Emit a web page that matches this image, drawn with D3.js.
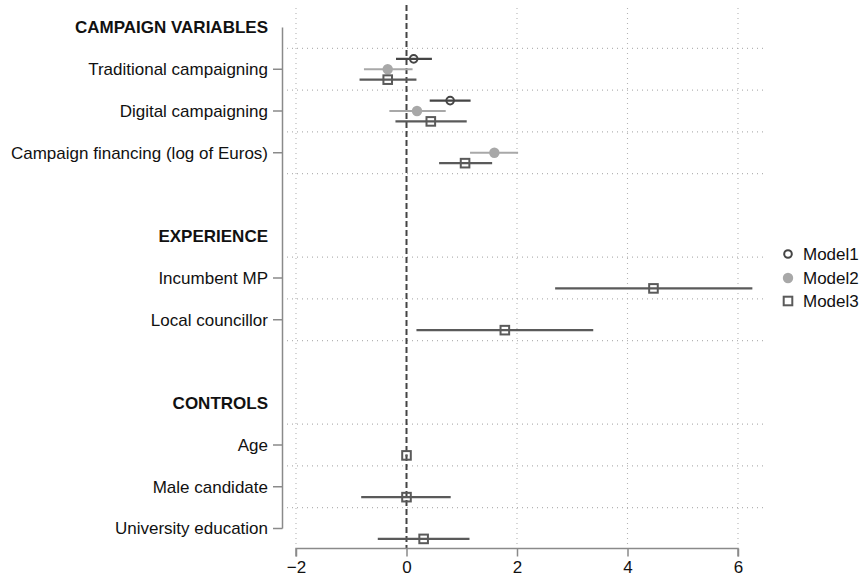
<!DOCTYPE html>
<html>
<head>
<meta charset="utf-8">
<script src="https://cdn.jsdelivr.net/npm/d3@7"></script>
<style>
  html, body { margin: 0; padding: 0; background: #fff; }
  text { font-family: "Liberation Sans", Arial, Helvetica, sans-serif; }
</style>
</head>
<body>
<svg id="chart" width="866" height="580"></svg>
<script>
// ---- data ----
const rowLabels = ["CAMPAIGN VARIABLES", "Traditional campaigning", "Digital campaigning",
  "Campaign financing (log of Euros)", "", "EXPERIENCE", "Incumbent MP", "Local councillor", "",
  "CONTROLS", "Age", "Male candidate", "University education"];
const headerLabels = ["CAMPAIGN VARIABLES", "EXPERIENCE", "CONTROLS"];
const variables = ["Traditional campaigning", "Digital campaigning", "Campaign financing (log of Euros)",
  "Incumbent MP", "Local councillor", "Age", "Male candidate", "University education"];
const models = ["Model1", "Model2", "Model3"];
const model1Est = [0.13, 0.79, null, null, null, null, null, null];
const model1Lo  = [-0.19, 0.42, null, null, null, null, null, null];
const model1Hi  = [0.46, 1.16, null, null, null, null, null, null];
const model2Est = [-0.34, 0.19, 1.59, null, null, null, null, null];
const model2Lo  = [-0.77, -0.31, 1.15, null, null, null, null, null];
const model2Hi  = [0.11, 0.71, 2.02, null, null, null, null, null];
const model3Est = [-0.34, 0.44, 1.06, 4.47, 1.78, 0.0, 0.0, 0.31];
const model3Lo  = [-0.85, -0.20, 0.59, 2.69, 0.18, -0.02, -0.82, -0.52];
const model3Hi  = [0.18, 1.09, 1.55, 6.26, 3.38, 0.02, 0.80, 1.14];
const xTicks = [-2, 0, 2, 4, 6];
// gridlines sit between these pairs of rows
const gridBetween = [[0,1],[1,2],[2,3],[3,4],[5,6],[6,7],[7,8],[9,10],[10,11],[11,12]];

// ---- chart ----
const svg = d3.select("#chart");
const x = d3.scaleLinear().domain([-2, 6]).range([296, 738]);
const y = d3.scaleLinear().domain([0, rowLabels.length - 1]).range([27.5, 528.5]);

const modelStyle = {
  Model1: { color: "#454545", offset: -10.4, shape: "circleOpen" },
  Model2: { color: "#a8a8a8", offset: 0, shape: "circleFill" },
  Model3: { color: "#5a5a5a", offset: 10.4, shape: "square" }
};
const est = { Model1: model1Est, Model2: model2Est, Model3: model3Est };
const lo = { Model1: model1Lo, Model2: model2Lo, Model3: model3Lo };
const hi = { Model1: model1Hi, Model2: model2Hi, Model3: model3Hi };

// horizontal dotted gridlines
svg.append("g").selectAll("line").data(gridBetween).join("line")
  .attr("x1", 287).attr("x2", 764)
  .attr("y1", d => (y(d[0]) + y(d[1])) / 2)
  .attr("y2", d => (y(d[0]) + y(d[1])) / 2)
  .attr("stroke", "#b4b4b4").attr("stroke-width", 1.1)
  .attr("stroke-dasharray", "1,4");

// vertical dotted gridlines
svg.append("g").selectAll("line").data(xTicks.filter(t => t !== 0)).join("line")
  .attr("x1", d => x(d)).attr("x2", d => x(d))
  .attr("y1", 8).attr("y2", 547)
  .attr("stroke", "#b4b4b4").attr("stroke-width", 1.1)
  .attr("stroke-dasharray", "1,4");

// zero reference dashed line
svg.append("line")
  .attr("x1", x(0)).attr("x2", x(0)).attr("y1", 5).attr("y2", 548)
  .attr("stroke", "#444").attr("stroke-width", 2)
  .attr("stroke-dasharray", "6,3");

// x axis
const xAxis = svg.append("g").attr("transform", "translate(0,548.5)")
  .call(d3.axisBottom(x).tickValues(xTicks).tickSize(8).tickPadding(4)
    .tickFormat(d => d < 0 ? "\u2212" + Math.abs(d) : d));
xAxis.select(".domain").attr("stroke", "#8a8a8a").attr("stroke-width", 1.5)
  .attr("d", `M${x(-2)},8V0H${x(6)}V8`);
xAxis.selectAll(".tick line").attr("stroke", "#8a8a8a").attr("stroke-width", 1.5);
xAxis.selectAll(".tick text").attr("font-size", 17).attr("fill", "#111")
  .attr("font-family", "Liberation Sans, Arial, sans-serif");

// y axis line
svg.append("line").attr("x1", 282.5).attr("x2", 282.5)
  .attr("y1", y(0)).attr("y2", y(rowLabels.length - 1))
  .attr("stroke", "#8a8a8a").attr("stroke-width", 1.5);

// row labels and ticks
const rows = rowLabels.map((l, i) => ({ label: l, i }));
svg.append("g").selectAll("line")
  .data(rows.filter(r => r.label && !headerLabels.includes(r.label))).join("line")
  .attr("x1", 273).attr("x2", 282.5)
  .attr("y1", d => y(d.i)).attr("y2", d => y(d.i))
  .attr("stroke", "#8a8a8a").attr("stroke-width", 1.5);
svg.append("g").selectAll("text").data(rows.filter(r => r.label)).join("text")
  .attr("x", 268).attr("y", d => y(d.i)).attr("dy", "0.35em")
  .attr("text-anchor", "end").attr("font-size", 17).attr("fill", "#111")
  .attr("font-weight", d => headerLabels.includes(d.label) ? "bold" : "normal")
  .text(d => d.label);

// estimates
models.forEach(m => {
  const st = modelStyle[m];
  const pts = variables.map((v, k) => ({
    v, est: est[m][k], lo: lo[m][k], hi: hi[m][k],
    yy: y(rowLabels.indexOf(v)) + st.offset
  })).filter(d => d.est !== null);
  const g = svg.append("g");
  g.selectAll("line").data(pts).join("line")
    .attr("x1", d => x(d.lo)).attr("x2", d => x(d.hi))
    .attr("y1", d => d.yy).attr("y2", d => d.yy)
    .attr("stroke", st.color).attr("stroke-width", 2.2);
  drawMarker(g, pts.map(d => [x(d.est), d.yy]), st);
});

function drawMarker(g, coords, st) {
  if (st.shape === "circleOpen") {
    g.selectAll("circle").data(coords).join("circle")
      .attr("cx", d => d[0]).attr("cy", d => d[1]).attr("r", 3.8)
      .attr("fill", "none").attr("stroke", st.color).attr("stroke-width", 2);
  } else if (st.shape === "circleFill") {
    g.selectAll("circle").data(coords).join("circle")
      .attr("cx", d => d[0]).attr("cy", d => d[1]).attr("r", 5.2)
      .attr("fill", st.color);
  } else {
    g.selectAll("rect").data(coords).join("rect")
      .attr("x", d => d[0] - 4.3).attr("y", d => d[1] - 4.3)
      .attr("width", 8.6).attr("height", 8.6)
      .attr("fill", "none").attr("stroke", st.color).attr("stroke-width", 2);
  }
}

// legend
const legendY = [254, 278, 301];
models.forEach((m, i) => {
  const st = modelStyle[m];
  const g = svg.append("g");
  drawMarker(g, [[788, legendY[i]]], st);
  g.append("text").attr("x", 803).attr("y", legendY[i]).attr("dy", "0.35em")
    .attr("font-size", 17).attr("fill", "#111").text(m);
});
</script>
</body>
</html>
